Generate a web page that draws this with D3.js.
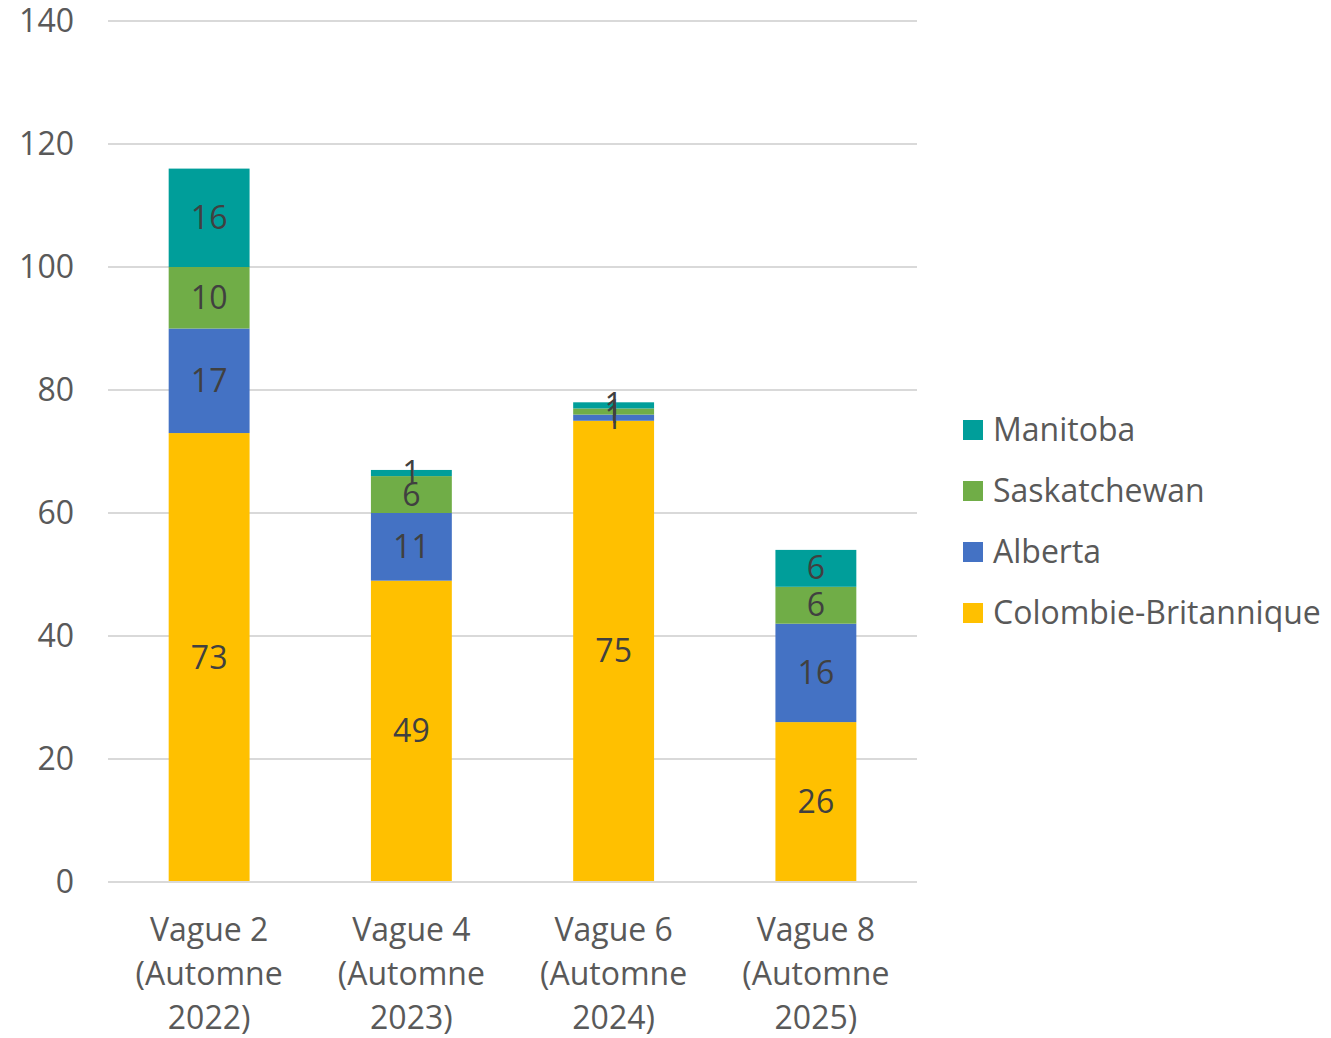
<!DOCTYPE html>
<html><head><meta charset="utf-8">
<script src="https://cdn.jsdelivr.net/npm/d3@7"></script>
<style>body{margin:0;background:#fff;} text{font-family:"Open Sans",sans-serif;}</style>
</head><body>
<svg id="c" width="1331" height="1038"></svg>
<script>
const categories = [["Vague 2","(Automne","2022)"],["Vague 4","(Automne","2023)"],["Vague 6","(Automne","2024)"],["Vague 8","(Automne","2025)"]];
const seriesNames = ["Colombie-Britannique","Alberta","Saskatchewan","Manitoba"];
const colombieBritannique = [73,49,75,26];
const alberta = [17,11,1,16];
const saskatchewan = [10,6,1,6];
const manitoba = [16,1,1,6];
const yTicks = [0,20,40,60,80,100,120,140];
const colors = ["#FFC000","#4472C4","#70AD47","#009E9A"];

const seriesValues = [colombieBritannique, alberta, saskatchewan, manitoba];
const rows = categories.map((c,i)=>{const r={i}; seriesNames.forEach((s,j)=>r[s]=seriesValues[j][i]); return r;});
const stack = d3.stack().keys(seriesNames)(rows);

const svg = d3.select("#c");
const x = d3.scaleBand().domain(d3.range(categories.length)).range([108,917]).paddingInner(0.6).paddingOuter(0.3);
const y = d3.scaleLinear().domain([0,140]).range([882,21]);
const FS = 32;

const grid = svg.append("g");
grid.selectAll("line").data(yTicks).join("line")
  .attr("x1",108).attr("x2",917).attr("y1",d=>y(d)).attr("y2",d=>y(d))
  .attr("stroke","#d9d9d9").attr("stroke-width",2);
svg.append("g").selectAll("text").data(yTicks).join("text")
  .attr("x",74).attr("y",d=>y(d)+11).attr("text-anchor","end")
  .attr("font-size",FS).attr("fill","#595959").text(d=>d);

const layers = svg.append("g").selectAll("g").data(stack).join("g").attr("fill",(d,i)=>colors[i]);
layers.selectAll("rect").data(d=>d).join("rect")
  .attr("x",(d,i)=>x(i)).attr("width",x.bandwidth())
  .attr("y",d=>y(d[1])).attr("height",d=>y(d[0])-y(d[1]));

const lab = svg.append("g").selectAll("g").data(stack).join("g");
lab.selectAll("text").data(d=>d).join("text")
  .attr("x",(d,i)=>x(i)+x.bandwidth()/2).attr("y",d=>y((d[0]+d[1])/2)+11)
  .attr("text-anchor","middle").attr("font-size",FS).attr("fill","#404040")
  .text(d=>d[1]-d[0]);

svg.append("line").attr("x1",108).attr("x2",917).attr("y1",y(0)).attr("y2",y(0)).attr("stroke","#d9d9d9").attr("stroke-width",2);

const xl = svg.append("g").selectAll("text").data(categories).join("text")
  .attr("text-anchor","middle").attr("font-size",FS).attr("fill","#595959");
xl.each(function(d,i){
  const t=d3.select(this);
  d.forEach((line,k)=>t.append("tspan").attr("x",x(i)+x.bandwidth()/2).attr("y",941+k*44).text(line));
});

const legendOrder = [3,2,1,0];
const lg = svg.append("g").selectAll("g").data(legendOrder).join("g")
  .attr("transform",(d,k)=>`translate(963,${430+k*61})`);
lg.append("rect").attr("x",0).attr("y",-10).attr("width",20).attr("height",20).attr("fill",d=>colors[d]);
lg.append("text").attr("x",30).attr("y",11).attr("font-size",FS).attr("fill","#595959").text(d=>seriesNames[d]);
</script>
</body></html>
